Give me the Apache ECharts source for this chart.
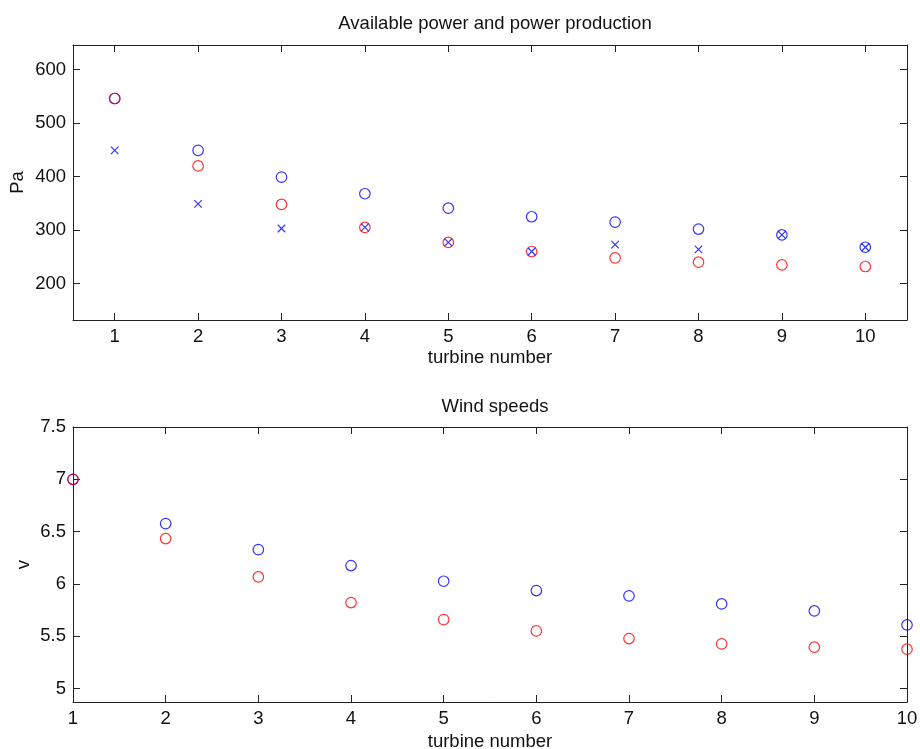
<!DOCTYPE html>
<html>
<head>
<meta charset="utf-8">
<script src="https://cdn.jsdelivr.net/npm/echarts@6/dist/echarts.min.js"></script>
<style>
html,body{margin:0;padding:0;background:#fff;}
#chart{width:920px;height:749px;}
</style>
</head>
<body>
<div id="chart"></div>
<script>
// ---- data ----
var turbines = [1, 2, 3, 4, 5, 6, 7, 8, 9, 10];
var availablePower = [546, 449, 399, 368, 341, 325, 315, 302, 291, 268];   // blue circles
var producedPower  = [546, 420, 348, 305, 277, 260, 248, 240, 235, 232];   // red circles
var powerCross     = [449, 349, 303, 305, 277, 260, 273, 264, 291, 268];   // blue crosses
var windFree  = [7.0, 6.576, 6.327, 6.175, 6.025, 5.936, 5.885, 5.808, 5.741, 5.607]; // blue
var windWake  = [7.0, 6.433, 6.066, 5.821, 5.658, 5.550, 5.477, 5.426, 5.394, 5.375]; // red
var powerTicks = [200, 300, 400, 500, 600];
var windTicks = [5, 5.5, 6, 6.5, 7, 7.5];
var titles = ['Available power and power production', 'Wind speeds'];

function pairs(xs, ys) { return xs.map(function (x, i) { return [x, ys[i]]; }); }

var FONT = 'Liberation Sans, Arial, Helvetica, sans-serif';
var FS = 18.5;
var TXT = '#111';
var LINE = '#222';

function mkX(gridIndex, pos, min, max, ticks, nameGap) {
  return {
    type: 'value', gridIndex: gridIndex, position: pos, min: min, max: max,
    splitLine: {show: false},
    axisLine: {show: true, onZero: false, lineStyle: {color: LINE, width: 1}},
    axisTick: {show: true, inside: true, length: 7, customValues: ticks, lineStyle: {color: LINE, width: 1}},
    axisLabel: {show: pos === 'bottom', margin: 7, customValues: ticks, color: TXT, fontSize: FS, fontFamily: FONT},
    name: pos === 'bottom' ? 'turbine number' : '',
    nameLocation: 'middle', nameGap: nameGap, nameMoveOverlap: false,
    nameTextStyle: {color: TXT, fontSize: FS, fontFamily: FONT}
  };
}
function mkY(gridIndex, pos, min, max, ticks, name, nameGap) {
  return {
    type: 'value', gridIndex: gridIndex, position: pos, min: min, max: max,
    splitLine: {show: false},
    axisLine: {show: true, onZero: false, lineStyle: {color: LINE, width: 1}},
    axisTick: {show: true, inside: true, length: 7, customValues: ticks, lineStyle: {color: LINE, width: 1}},
    axisLabel: {show: pos === 'left', margin: 7, customValues: ticks, color: TXT, fontSize: FS, fontFamily: FONT},
    name: pos === 'left' ? name : '',
    nameLocation: 'middle', nameGap: nameGap, nameMoveOverlap: false,
    nameTextStyle: {color: TXT, fontSize: FS, fontFamily: FONT}
  };
}

var circlePath = 'circle';
var crossPath = 'path://M0,0L10,10M10,0L0,10';

var option = {
  animation: false,
  backgroundColor: '#fff',
  title: [
    {text: titles[0], left: 490, top: 9, textAlign: 'center',
     textStyle: {color: TXT, fontSize: FS, fontWeight: 'normal', fontFamily: FONT}},
    {text: titles[1], left: 490, top: 392, textAlign: 'center',
     textStyle: {color: TXT, fontSize: FS, fontWeight: 'normal', fontFamily: FONT}}
  ],
  grid: [
    {left: 73, right: 13, top: 45, height: 275, outerBoundsMode: 'none'},
    {left: 73, right: 13, top: 427, height: 275, outerBoundsMode: 'none'}
  ],
  xAxis: [
    mkX(0, 'bottom', 0.5, 10.5, turbines, 28),
    mkX(0, 'top', 0.5, 10.5, turbines, 28),
    mkX(1, 'bottom', 1, 10, turbines, 30),
    mkX(1, 'top', 1, 10, turbines, 30)
  ],
  yAxis: [
    mkY(0, 'left', 132, 646, powerTicks, 'Pa', 46),
    mkY(0, 'right', 132, 646, powerTicks, '', 46),
    mkY(1, 'left', 4.87, 7.5, windTicks, 'v', 40),
    mkY(1, 'right', 4.87, 7.5, windTicks, '', 40)
  ],
  series: [
    {type: 'scatter', xAxisIndex: 0, yAxisIndex: 0, data: pairs(turbines, availablePower),
     symbol: circlePath, symbolSize: 10.5, itemStyle: {color: 'rgba(0,0,0,0)', borderColor: '#0000ff', borderWidth: 1.2}},
    {type: 'scatter', xAxisIndex: 0, yAxisIndex: 0, data: pairs(turbines, producedPower),
     symbol: circlePath, symbolSize: 10.5, itemStyle: {color: 'rgba(0,0,0,0)', borderColor: '#ff0000', borderWidth: 1.2}},
    {type: 'scatter', xAxisIndex: 0, yAxisIndex: 0, data: pairs(turbines, powerCross),
     symbol: crossPath, symbolSize: 7.5, itemStyle: {color: 'none', borderColor: '#0000ff', borderWidth: 1.2}},
    {type: 'scatter', xAxisIndex: 2, yAxisIndex: 2, data: pairs(turbines, windFree),
     symbol: circlePath, symbolSize: 10.5, itemStyle: {color: 'rgba(0,0,0,0)', borderColor: '#0000ff', borderWidth: 1.2}},
    {type: 'scatter', xAxisIndex: 2, yAxisIndex: 2, data: pairs(turbines, windWake),
     symbol: circlePath, symbolSize: 10.5, itemStyle: {color: 'rgba(0,0,0,0)', borderColor: '#ff0000', borderWidth: 1.2}}
  ]
};

var chart = echarts.init(document.getElementById('chart'), null, {renderer: 'canvas'});
chart.setOption(option);
</script>
</body>
</html>
